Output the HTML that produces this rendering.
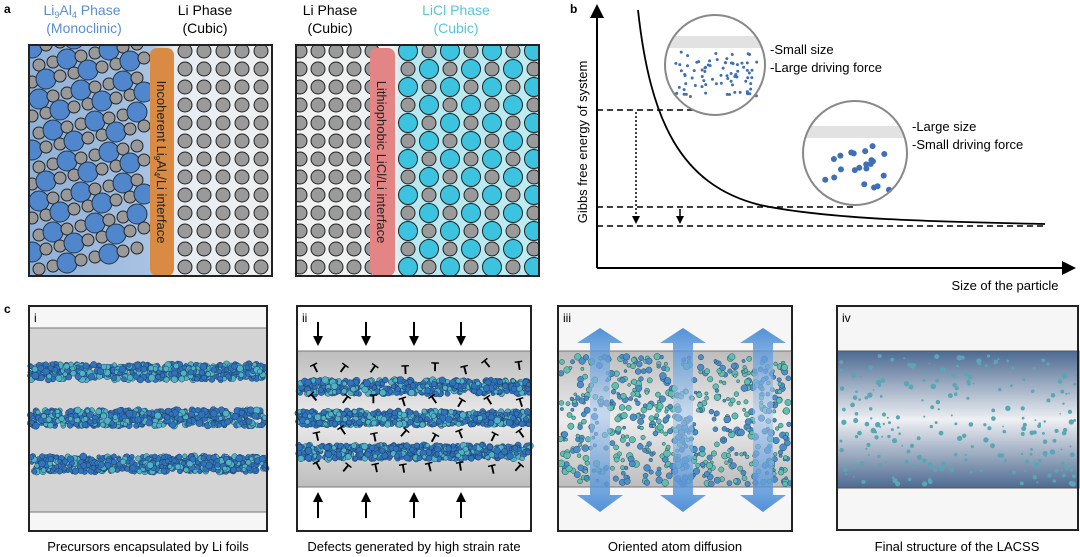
<!DOCTYPE html>
<html><head><meta charset="utf-8"><style>
html,body{margin:0;padding:0;background:#fff;width:1080px;height:557px;overflow:hidden}
svg{display:block}
text{font-family:"Liberation Sans",Arial,sans-serif}
</style></head><body>
<svg id="s" width="1080" height="557" viewBox="0 0 1080 557" xmlns="http://www.w3.org/2000/svg">
<defs>
<linearGradient id="ga" x1="0" x2="1"><stop offset="0" stop-color="#8fb0d8"/><stop offset="0.5" stop-color="#a9c3e2"/><stop offset="0.6" stop-color="#e6ecf3"/><stop offset="1" stop-color="#f1f1f1"/></linearGradient>
<linearGradient id="gb" x1="0" x2="1"><stop offset="0" stop-color="#f2f2f2"/><stop offset="0.4" stop-color="#eef2f3"/><stop offset="0.45" stop-color="#b8e8ef"/><stop offset="1" stop-color="#bfeaf2"/></linearGradient>
<linearGradient id="band" x1="0" y1="0" x2="0" y2="1"><stop offset="0" stop-color="#bdbdbd"/><stop offset="0.5" stop-color="#ececec"/><stop offset="1" stop-color="#bdbdbd"/></linearGradient>
<linearGradient id="band4" x1="0" y1="0" x2="0" y2="1"><stop offset="0" stop-color="#4d6a92"/><stop offset="0.5" stop-color="#eef0f3"/><stop offset="1" stop-color="#4d6a92"/></linearGradient>
<linearGradient id="arr" x1="0" y1="0" x2="0" y2="1"><stop offset="0" stop-color="#3f86d4"/><stop offset="0.45" stop-color="#a9c9ee" stop-opacity="0.6"/><stop offset="1" stop-color="#3f86d4"/></linearGradient>
<clipPath id="c1"><rect x="29" y="45" width="243" height="231"/></clipPath>
<clipPath id="c2"><rect x="296" y="45" width="243" height="231"/></clipPath>
</defs>
<!-- panel a -->
<text x="4" y="13" font-size="12" font-weight="bold">a</text>
<text x="82" y="15" font-size="14" fill="#5b8ed0" text-anchor="middle">Li<tspan font-size="9" dy="3">9</tspan><tspan dy="-3">Al</tspan><tspan font-size="9" dy="3">4</tspan><tspan dy="-3"> Phase</tspan></text>
<text x="84" y="33" font-size="14" fill="#5b8ed0" text-anchor="middle">(Monoclinic)</text>
<text x="205" y="15" font-size="14" text-anchor="middle">Li Phase</text>
<text x="205" y="33" font-size="14" text-anchor="middle">(Cubic)</text>
<text x="330" y="15" font-size="14" text-anchor="middle">Li Phase</text>
<text x="330" y="33" font-size="14" text-anchor="middle">(Cubic)</text>
<text x="456" y="15" font-size="14" fill="#56c6dc" text-anchor="middle">LiCl Phase</text>
<text x="456" y="33" font-size="14" fill="#56c6dc" text-anchor="middle">(Cubic)</text>
<rect x="29" y="45" width="243" height="231" fill="url(#ga)"/>
<g id="a1" clip-path="url(#c1)"></g>
<rect x="150" y="48" width="24" height="228" rx="7" fill="#d98a43"/>
<text transform="translate(157,162) rotate(90)" font-size="13" text-anchor="middle" fill="#222">Incoherent Li<tspan font-size="8" dy="3">9</tspan><tspan dy="-3">Al</tspan><tspan font-size="8" dy="3">4</tspan><tspan dy="-3">/Li interface</tspan></text>
<rect x="29" y="45" width="243" height="231" fill="none" stroke="#222" stroke-width="2"/>
<rect x="296" y="45" width="243" height="231" fill="url(#gb)"/>
<g id="a2" clip-path="url(#c2)"></g>
<rect x="370" y="48" width="25" height="228" rx="7" fill="#e38585"/>
<text transform="translate(377,162) rotate(90)" font-size="13" text-anchor="middle" fill="#222">Lithiophobic LiCl/Li interface</text>
<rect x="296" y="45" width="243" height="231" fill="none" stroke="#222" stroke-width="2"/>
<!-- panel b -->
<text x="570" y="13" font-size="12" font-weight="bold">b</text>
<line x1="597" y1="268" x2="597" y2="16" stroke="#000" stroke-width="2"/>
<path d="M590,18 L597,4 L604,18z"/>
<line x1="597" y1="268" x2="1065" y2="268" stroke="#000" stroke-width="2"/>
<path d="M1062,261 L1076,268 L1062,275z"/>
<path d="M638,10 C650,120 680,185 760,205 C830,220 950,222 1045,224" fill="none" stroke="#000" stroke-width="1.8"/>
<g stroke="#000" stroke-width="1.5" stroke-dasharray="6,4" fill="none">
<line x1="597" y1="110" x2="715" y2="110"/><line x1="597" y1="207" x2="855" y2="207"/><line x1="597" y1="226" x2="1045" y2="226"/>
</g>
<line x1="636" y1="112" x2="636" y2="216" stroke="#000" stroke-width="1.5" stroke-dasharray="2,2"/>
<path d="M632,216 L640,216 L636,224z"/>
<line x1="680" y1="209" x2="680" y2="216" stroke="#000" stroke-width="1.5"/>
<path d="M676,216 L684,216 L680,224z"/>
<text transform="translate(587,142) rotate(-90)" font-size="13" text-anchor="middle">Gibbs free energy of system</text>
<text x="1005" y="290" font-size="13" text-anchor="middle">Size of the particle</text>
<circle cx="715" cy="65" r="50" fill="#fff"/>
<path d="M673,36 L757,36 A48,48 0 0 1 763,48 L667,48 A48,48 0 0 1 673,36z" fill="#e2e2e2"/>
<g id="b1"></g>
<circle cx="715" cy="65" r="50" fill="none" stroke="#888" stroke-width="2"/>
<circle cx="855" cy="153" r="52" fill="#fff"/>
<path d="M812,126 L898,126 A50,50 0 0 1 904,138 L806,138 A50,50 0 0 1 812,126z" fill="#e2e2e2"/>
<g id="b2"></g>
<circle cx="855" cy="153" r="52" fill="none" stroke="#888" stroke-width="2"/>
<text x="770" y="54" font-size="13">-Small size</text>
<text x="770" y="72" font-size="13">-Large driving force</text>
<text x="912" y="131" font-size="13">-Large size</text>
<text x="912" y="149" font-size="13">-Small driving force</text>
<!-- panel c -->
<text x="4" y="313" font-size="12" font-weight="bold">c</text>
<rect x="29" y="306" width="238" height="225" fill="#f6f6f6"/>
<rect x="29" y="328" width="238" height="184" fill="#d4d4d4" stroke="#777"/>
<rect x="297" y="306" width="234" height="225" fill="#fff"/>
<rect x="297" y="351" width="234" height="136" fill="url(#band)" stroke="#777"/>
<rect x="558" y="306" width="234" height="225" fill="#f6f6f6"/>
<rect x="558" y="351" width="234" height="136" fill="url(#band)" stroke="#777"/>
<rect x="837" y="306" width="242" height="224" fill="#f6f6f6"/>
<rect x="837" y="351" width="242" height="137" fill="url(#band4)" stroke="#555"/>
<g id="cdots"></g>
<g id="arrs"></g>
<g stroke="#222" stroke-width="2" fill="none">
<rect x="29" y="306" width="238" height="225"/><rect x="297" y="306" width="234" height="225"/>
<rect x="558" y="306" width="234" height="225"/><rect x="837" y="306" width="241" height="224"/>
</g>
<text x="34" y="322" font-size="12">i</text>
<text x="302" y="322" font-size="12">ii</text>
<text x="563" y="322" font-size="12">iii</text>
<text x="842" y="322" font-size="12">iv</text>
<text x="148" y="551" font-size="13" text-anchor="middle">Precursors encapsulated by Li foils</text>
<text x="414" y="551" font-size="13" text-anchor="middle">Defects generated by high strain rate</text>
<text x="675" y="551" font-size="13" text-anchor="middle">Oriented atom diffusion</text>
<text x="957" y="551" font-size="13" text-anchor="middle">Final structure of the LACSS</text>
</svg>
<script>
var NS="http://www.w3.org/2000/svg",seed=7;function R(){seed=(seed*16807)%2147483647;return seed/2147483647;}
function el(p,t,a){var e=document.createElementNS(NS,t);for(var k in a)e.setAttribute(k,a[k]);document.getElementById(p).appendChild(e);return e;}
for(var r=0;r<14;r++)for(var c=0;c<9;c++){var x=32+c*14+(r%2)*7,y=48+r*17-c*3;if(x>150)continue;
 if((c+r)%3==0)el("a1","circle",{cx:x,cy:y,r:10,fill:"#4f86cc",stroke:"#234",'stroke-width':1});
 else el("a1","circle",{cx:x,cy:y,r:6,fill:"#999",stroke:"#222",'stroke-width':1});}
for(var r=0;r<14;r++)for(var c=0;c<5;c++)el("a1","circle",{cx:185+c*19,cy:51+r*18,r:7,fill:"#9a9a9a",stroke:"#222",'stroke-width':1});
for(var r=0;r<14;r++){for(var c=0;c<5;c++)el("a2","circle",{cx:300+c*18,cy:51+r*18,r:7,fill:"#9a9a9a",stroke:"#222",'stroke-width':1});
 for(var c=0;c<7;c++){var big=(c+r)%2==0;el("a2","circle",{cx:408+c*21,cy:51+r*18,r:big?9.5:7,fill:big?"#3cc3e0":"#9a9a9a",stroke:"#222",'stroke-width':1});}}
for(var i=0;i<80;i++)el("b1","circle",{cx:675+R()*82,cy:52+R()*46,r:1.5,fill:"#3f6fb5"});
for(var i=0;i<22;i++)el("b2","circle",{cx:820+R()*70,cy:145+R()*45,r:3,fill:"#3f6fb5"});
function stripe(x0,x1,yc,h){for(var i=0;i<(x1-x0)*2.2;i++)el("cdots","circle",{cx:x0+R()*(x1-x0),cy:yc-h/2+R()*h,r:2+R()*1.5,fill:R()<0.65?"#2f72bd":"#4fb3c4",stroke:"#1d3d5a",'stroke-width':0.5});}
[372,418,464].forEach(function(y){stripe(30,266,y,16);});
[387,418,452].forEach(function(y){stripe(298,530,y,14);});
for(var i=0;i<600;i++)el("cdots","circle",{cx:560+R()*230,cy:356+R()*128,r:1.5+R()*2,fill:R()<0.5?"#4a8fc9":"#5fbfae",stroke:"#2a4a5a",'stroke-width':0.5});
for(var i=0;i<220;i++)el("cdots","circle",{cx:840+R()*236,cy:356+R()*128,r:0.8+R()*2,fill:"#5aa6b5"});
[[368,8],[401,8],[435,8],[469,8]].forEach(function(a){for(var i=0;i<8;i++){var t=el("cdots","text",{x:310+i*29+R()*6,y:a[0]+R()*8,'font-size':13,'font-weight':'bold',transform:"rotate("+(R()*90-45)+" "+(314+i*29)+" "+a[0]+")"});t.textContent="T";}});
[318,366,414,461].forEach(function(x){el("arrs","line",{x1:x,y1:322,x2:x,y2:338,stroke:"#000",'stroke-width':2});el("arrs","path",{d:"M"+(x-5)+",336 L"+(x+5)+",336 L"+x+",346z"});
 el("arrs","line",{x1:x,y1:518,x2:x,y2:500,stroke:"#000",'stroke-width':2});el("arrs","path",{d:"M"+(x-5)+",502 L"+(x+5)+",502 L"+x+",492z"});});
[600,683,763].forEach(function(x){el("arrs","path",{d:"M"+x+",328 L"+(x+23)+",343 L"+(x+10)+",343 L"+(x+10)+",495 L"+(x+23)+",495 L"+x+",512 L"+(x-23)+",495 L"+(x-10)+",495 L"+(x-10)+",343 L"+(x-23)+",343z",fill:"url(#arr)",opacity:0.9});});
</script>
</body></html>
